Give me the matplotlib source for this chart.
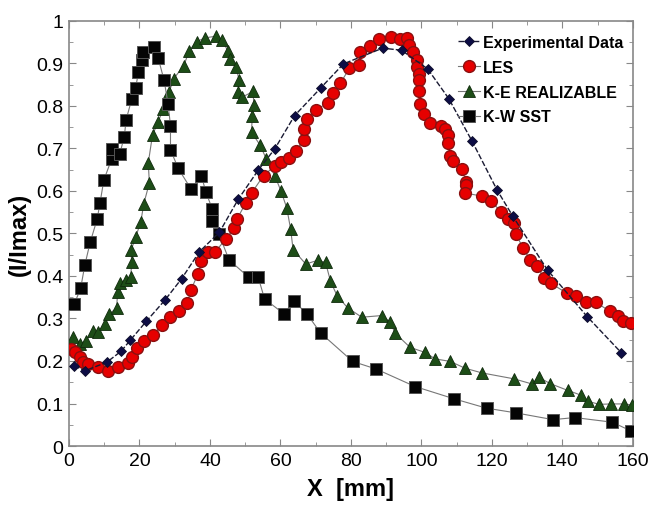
import matplotlib
matplotlib.use("Agg")
import matplotlib.pyplot as plt
from matplotlib.ticker import MultipleLocator

plt.rcParams['font.family'] = ['Liberation Sans', 'DejaVu Sans']

# Experimental data
x_exp = [1.5, 4.5, 10.7, 14.8, 17.4, 21.9, 27.2, 32.0, 37.0, 42.7, 48.0, 53.7, 58.4,
         64.0, 71.4, 77.9, 89.0, 94.4, 101.8, 107.8, 114.4, 121.5, 126.0, 135.8,
         147.1, 156.8]
y_exp = [0.189, 0.177, 0.197, 0.223, 0.249, 0.293, 0.343, 0.394, 0.457, 0.503, 0.580,
         0.649, 0.699, 0.777, 0.842, 0.899, 0.936, 0.931, 0.887, 0.817, 0.717, 0.602,
         0.540, 0.414, 0.304, 0.219]

# LES
x_les = [0.5, 1.7, 3.1, 4.1, 5.5, 8.1, 11.0, 14.0, 16.8, 18.0, 19.2, 21.2, 23.9, 26.5,
         28.6, 31.2, 33.6, 34.6, 36.6, 37.6, 39.5, 41.4, 44.5, 46.8, 47.7, 50.1, 51.8,
         55.2, 58.4, 60.2, 62.3, 64.5, 66.6, 66.7, 67.6, 70.0, 73.5, 74.9, 77.0, 79.6,
         82.2, 82.7, 85.3, 88.1, 91.4, 94.0, 95.8, 96.6, 97.5, 98.7, 98.7, 99.2, 99.2,
         99.2, 99.6, 100.7, 102.5, 105.6, 106.8, 107.5, 107.5, 108.1, 108.9, 111.5,
         112.7, 112.7, 112.4, 117.2, 119.7, 122.6, 124.6, 126.3, 126.8, 128.9, 130.9,
         132.9, 134.8, 136.7, 141.4, 143.8, 146.8, 149.5, 153.5, 155.8, 157.3, 159.4]
y_les = [0.228, 0.220, 0.209, 0.198, 0.193, 0.185, 0.177, 0.185, 0.195, 0.209, 0.230,
         0.248, 0.262, 0.285, 0.304, 0.317, 0.336, 0.367, 0.405, 0.436, 0.457, 0.456,
         0.487, 0.512, 0.534, 0.571, 0.595, 0.636, 0.659, 0.667, 0.677, 0.695, 0.721,
         0.746, 0.769, 0.791, 0.807, 0.831, 0.853, 0.889, 0.897, 0.926, 0.940, 0.958,
         0.962, 0.958, 0.959, 0.944, 0.928, 0.907, 0.891, 0.875, 0.860, 0.834, 0.805,
         0.780, 0.760, 0.752, 0.746, 0.732, 0.713, 0.683, 0.671, 0.652, 0.622, 0.613,
         0.595, 0.588, 0.577, 0.551, 0.534, 0.525, 0.499, 0.465, 0.438, 0.423, 0.395,
         0.383, 0.359, 0.352, 0.338, 0.338, 0.317, 0.305, 0.295, 0.289]

# K-E realizable
x_ke = [1.2, 3.1, 4.7, 6.9, 8.3, 10.2, 11.4, 13.5, 13.8, 14.4, 16.3, 17.5, 17.8, 17.6,
        18.9, 20.4, 21.2, 22.8, 22.5, 23.7, 25.3, 26.7, 28.4, 29.7, 32.6, 34.1, 36.2,
        38.5, 41.6, 43.5, 45.1, 45.8, 47.5, 48.2, 48.0, 49.0, 52.2, 52.5, 52.0, 51.8,
        54.3, 56.0, 58.4, 60.2, 61.8, 62.9, 63.6, 67.2, 70.6, 72.8, 74.2, 76.1, 79.1,
        83.1, 88.9, 91.2, 92.5, 96.8, 101.1, 103.9, 108.2, 112.4, 117.2, 126.3, 131.4,
        133.3, 136.5, 141.5, 145.2, 147.4, 150.5, 153.9, 157.5, 159.9]
y_ke = [0.256, 0.240, 0.246, 0.271, 0.269, 0.287, 0.311, 0.324, 0.362, 0.384, 0.391,
        0.397, 0.432, 0.460, 0.491, 0.528, 0.569, 0.619, 0.666, 0.732, 0.762, 0.793,
        0.832, 0.864, 0.895, 0.930, 0.951, 0.960, 0.964, 0.954, 0.929, 0.911, 0.891,
        0.862, 0.832, 0.820, 0.834, 0.802, 0.777, 0.738, 0.707, 0.675, 0.636, 0.599,
        0.560, 0.510, 0.462, 0.428, 0.437, 0.432, 0.388, 0.353, 0.325, 0.303, 0.307,
        0.291, 0.266, 0.232, 0.220, 0.205, 0.199, 0.183, 0.172, 0.158, 0.146, 0.162,
        0.147, 0.131, 0.120, 0.105, 0.098, 0.099, 0.099, 0.096]

# K-W SST
x_kw = [1.5, 3.3, 4.5, 6.0, 8.0, 8.8, 9.9, 12.1, 12.3, 14.4, 15.7, 16.2, 17.8, 18.9,
        19.7, 20.6, 21.1, 24.2, 25.3, 27.0, 28.1, 28.8, 28.8, 31.0, 34.6, 37.6, 38.8,
        40.7, 40.7, 42.6, 45.4, 51.0, 53.7, 55.5, 61.0, 63.8, 67.5, 71.4, 80.5, 87.2,
        98.2, 109.3, 118.5, 126.8, 137.4, 143.5, 154.2, 159.6]
y_kw = [0.334, 0.371, 0.426, 0.479, 0.534, 0.572, 0.626, 0.675, 0.699, 0.687, 0.728,
        0.767, 0.816, 0.842, 0.879, 0.907, 0.926, 0.938, 0.913, 0.860, 0.805, 0.754,
        0.697, 0.653, 0.605, 0.636, 0.598, 0.557, 0.530, 0.498, 0.438, 0.397, 0.397,
        0.346, 0.311, 0.341, 0.311, 0.266, 0.199, 0.181, 0.140, 0.111, 0.089, 0.078,
        0.062, 0.067, 0.056, 0.035]

fig, ax = plt.subplots(figsize=(6.51, 5.10), dpi=100)
fig.subplots_adjust(left=0.106, right=0.972, bottom=0.1235, top=0.957)

ax.plot(x_exp, y_exp, color='#1a1a33', linestyle=(0, (4, 1.5)), lw=1,
        marker='D', ms=5.5, mfc='#0d0d45', mec='#0d0d2a', mew=0.6,
        label='Experimental Data', zorder=5)
ax.plot(x_les, y_les, color='#777777', lw=0.8,
        marker='o', ms=8.5, mfc='#e60000', mec='#8a1010', mew=1.0,
        label='LES', zorder=4)
ax.plot(x_ke, y_ke, color='#777777', lw=0.8,
        marker='^', ms=8, mfc='#1d4d17', mec='#0f2a0c', mew=0.6,
        label='K-E REALIZABLE', zorder=3)
ax.plot(x_kw, y_kw, color='#777777', lw=0.8,
        marker='s', ms=8.5, mfc='#050505', mec='#555555', mew=0.7,
        label='K-W SST', zorder=3)

ax.set_xlim(0, 160)
ax.set_ylim(0, 1)
ax.xaxis.set_major_locator(MultipleLocator(20))
ax.xaxis.set_minor_locator(MultipleLocator(10))
ax.yaxis.set_minor_locator(MultipleLocator(0.05))
ax.set_yticks([0, 0.1, 0.2, 0.3, 0.4, 0.5, 0.6, 0.7, 0.8, 0.9, 1])
ax.set_yticklabels(['0', '0.1', '0.2', '0.3', '0.4', '0.5', '0.6', '0.7', '0.8', '0.9', '1'])

ax.tick_params(which='both', direction='in', top=True, right=True, color='#888888',
               labelsize=14, pad=4)
ax.tick_params(which='major', length=5)
ax.tick_params(which='minor', length=3)
for s in ax.spines.values():
    s.set_color('#888888')
    s.set_linewidth(1.2)

ax.set_xlabel('X  [mm]', fontsize=17, fontweight='bold', labelpad=6)
ax.set_ylabel('(I/Imax)', fontsize=17, fontweight='bold', labelpad=4)

leg = ax.legend(loc='upper right', bbox_to_anchor=(1.0, 0.99), frameon=False,
                handlelength=1.4, handletextpad=0.15, labelspacing=0.62,
                borderaxespad=0.2, prop={'weight': 'bold', 'size': 11.5})

fig.savefig('out.png', dpi=100)
